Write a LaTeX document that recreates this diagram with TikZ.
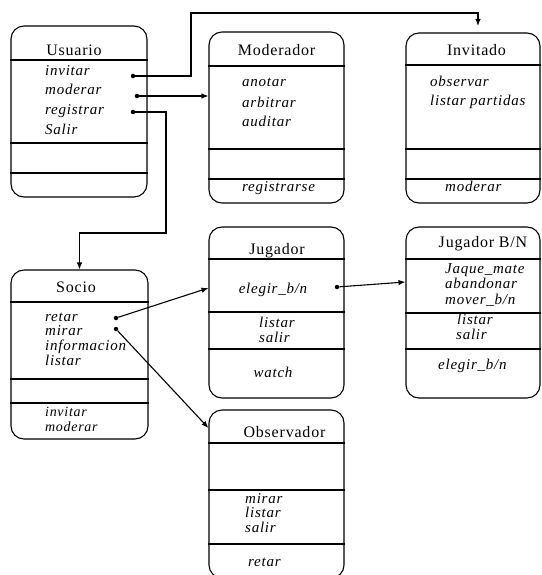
\documentclass[tikz,border=0pt]{standalone}
\usepackage{fontspec}
\setmainfont{Liberation Serif}[LetterSpace=5]
\usetikzlibrary{arrows.meta}

\begin{document}
\begin{tikzpicture}[x=1pt, y=-1pt,
  cls/.style={draw, line width=1.1pt, rounded corners=13pt, inner sep=0pt},
  sep/.style={line width=1.1pt},
  ttl/.style={anchor=base, inner sep=0pt, font=\fontsize{16}{16}\selectfont},
  itm/.style={anchor=base west, inner sep=0pt, font=\fontsize{15}{15}\selectfont\itshape},
  dot/.style={circle, fill, inner sep=0pt, minimum size=4.5pt},
  arr/.style={-{Latex[length=7pt, width=5.5pt]}, line width=1.1pt}]
\useasboundingbox (0,0) rectangle (541,575);

% Usuario
\node[cls, minimum width=136pt, minimum height=171pt] (usuario) at (79,111.5) {};
\foreach \y in {60,143,173} \draw[sep] (usuario.west |- 0,\y) -- (usuario.east |- 0,\y);
\node[ttl] (usuariot) at (74,56) {Usuario};
\node[itm] (uinvitar) at (45,76) {invitar};
\node[itm] (umoderar) at (45,95) {moderar};
\node[itm] (uregistrar) at (45,115) {registrar};
\node[itm] (usalir) at (45,134) {Salir};
\node[dot] (invdot) at (133,76) {};
\node[dot] (moddot) at (137,96) {};
\node[dot] (regdot) at (133,112) {};

% Moderador
\node[cls, minimum width=135pt, minimum height=171pt] (moderador) at (276.5,117.5) {};
\foreach \y in {66,149,179} \draw[sep] (moderador.west |- 0,\y) -- (moderador.east |- 0,\y);
\node[ttl] (moderadort) at (276.5,56) {Moderador};
\node[itm] (manotar) at (242,87) {anotar};
\node[itm] (marbitrar) at (242,107) {arbitrar};
\node[itm] (mauditar) at (242,127) {auditar};
\node[itm] (mregistrarse) at (242,191) {registrarse};

% Invitado
\node[cls, minimum width=134pt, minimum height=170pt] (invitado) at (473,118) {};
\foreach \y in {65,149,179} \draw[sep] (invitado.west |- 0,\y) -- (invitado.east |- 0,\y);
\node[ttl] (invitadot) at (476.5,56) {Invitado};
\node[itm] (iobservar) at (430,87) {observar};
\node[itm] (ilistar) at (430,106) {listar partidas};
\node[itm] (imoderar) at (445,191) {moderar};
\coordinate (invtip) at (478,26);

% Socio
\node[cls, minimum width=137pt, minimum height=169pt] (socio) at (79.5,354.5) {};
\foreach \y in {302,379,403} \draw[sep] (socio.west |- 0,\y) -- (socio.east |- 0,\y);
\node[ttl] (sociot) at (76,292) {Socio};
\node[itm] (sretar) at (45,321) {retar};
\node[itm] (smirar) at (45,335) {mirar};
\node[itm] (sinfo) at (45,350) {informacion};
\node[itm] (slistar) at (45,365) {listar};
\node[itm, font=\fontsize{14}{14}\selectfont\itshape] (sinvitar) at (45,416) {invitar};
\node[itm, font=\fontsize{14}{14}\selectfont\itshape] (smoderar) at (45,431) {moderar};
\node[dot] (retdot) at (116,318) {};
\node[dot] (mirdot) at (116,329) {};

% Jugador
\node[cls, minimum width=135pt, minimum height=171pt] (jugador) at (276.5,312.5) {};
\foreach \y in {259,312,349} \draw[sep] (jugador.west |- 0,\y) -- (jugador.east |- 0,\y);
\node[ttl] (jugadort) at (277,254) {Jugador};
\node[itm, anchor=base] (jelegir) at (273,293) {elegir\_b/n};
\node[itm] (jlistar) at (259,327) {listar};
\node[itm] (jsalir) at (259,342) {salir};
\node[itm, anchor=base] (jwatch) at (273,377) {watch};
\node[dot] (jdot) at (337,287) {};

% Jugador B/N
\node[cls, minimum width=134pt, minimum height=171pt] (jbn) at (473,312.5) {};
\foreach \y in {259,313,349} \draw[sep] (jbn.west |- 0,\y) -- (jbn.east |- 0,\y);
\node[ttl] (jbnt) at (483,247) {Jugador B/N};
\node[itm] (bjaque) at (445,273) {Jaque\_mate};
\node[itm] (babandonar) at (445,288) {abandonar};
\node[itm] (bmover) at (445,304) {mover\_b/n};
\node[itm] (blistar) at (457,324) {listar};
\node[itm] (bsalir) at (456,339) {salir};
\node[itm] (belegir) at (438,369) {elegir\_b/n};

% Observador
\node[cls, minimum width=135pt, minimum height=168pt] (observador) at (276.5,494) {};
\foreach \y in {443,490,544} \draw[sep] (observador.west |- 0,\y) -- (observador.east |- 0,\y);
\node[ttl] (observadort) at (284.5,437) {Observador};
\node[itm] (omirar) at (245,503) {mirar};
\node[itm] (olistar) at (245,517) {listar};
\node[itm] (osalir) at (245,532) {salir};
\node[itm] (oretar) at (248,566) {retar};

\draw[arr] (invdot) -| (191,13) -| (invtip);
\draw[arr] (moddot) -- (moderador.west |- moddot);
\draw[arr] (regdot) -| (166,233) -| (socio.north);
\draw[arr] (retdot) -- (jugador.west |- 0,288);
\draw[arr] (mirdot) -- (observador.west |- 0,428);
\draw[arr] (jdot) -- (jbn.west |- 0,282);
\end{tikzpicture}
\end{document}
